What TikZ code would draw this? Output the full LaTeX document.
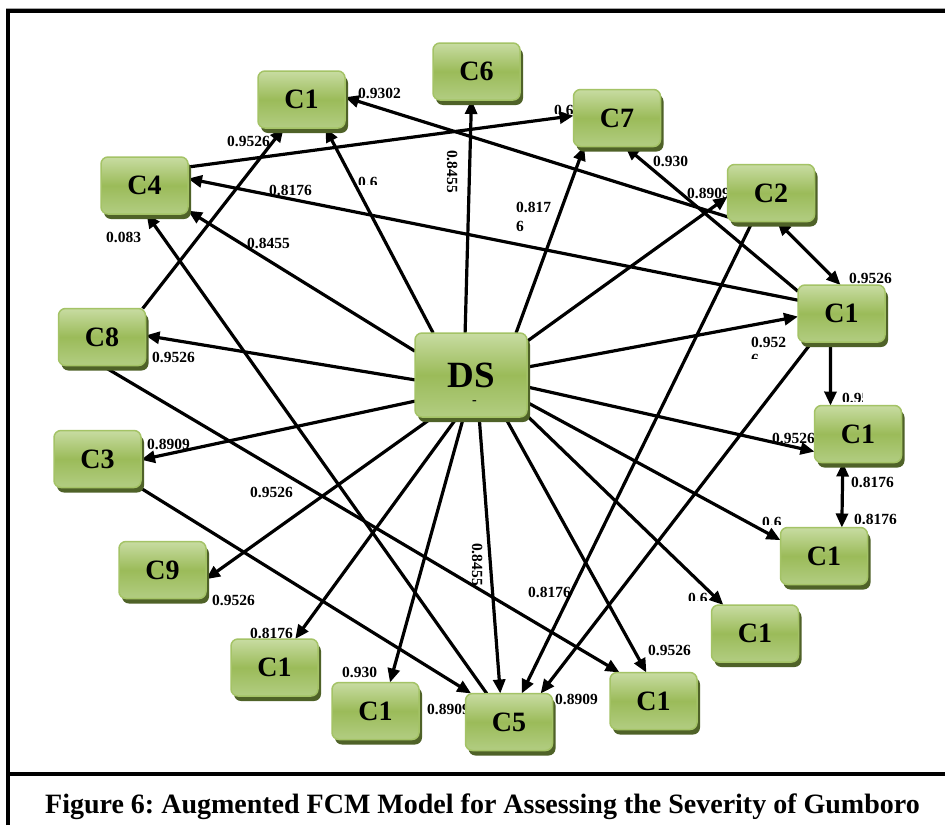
\documentclass[tikz,border=0pt]{standalone}
\usepackage{fontspec}
\setmainfont{Liberation Serif}
\usetikzlibrary{arrows.meta,shadows}
\frenchspacing

\definecolor{nodetop}{HTML}{C8DCA2}
\definecolor{nodemid}{HTML}{9BBB59}
\definecolor{nodebot}{HTML}{B2CD82}
\definecolor{nodeedge}{HTML}{A4C366}
\definecolor{nodeshadow}{HTML}{4F6228}

\pgfdeclarelayer{paper}
\pgfdeclarelayer{weights}
\pgfdeclarelayer{links}
\pgfsetlayers{paper,weights,links,main}

\tikzset{
  concept/.style={rectangle, rounded corners=7pt, draw=nodeedge, line width=1.5pt,
    top color=nodetop, bottom color=nodebot, middle color=nodemid,
    general shadow={fill=nodeshadow, shadow xshift=3pt, shadow yshift=-5pt},
    minimum width=87pt, minimum height=57pt, inner sep=0pt, outer sep=0pt,
    font=\fontsize{28}{30}\selectfont\bfseries},
  hub/.style={concept, minimum width=112pt, minimum height=84pt,
    font=\fontsize{37}{40}\selectfont\bfseries},
  weight/.style={anchor=base west, inner sep=0pt, font=\fontsize{15.5}{17}\selectfont\bfseries},
  link/.style={line width=3.2pt, -{Triangle[length=14pt,width=12pt]}},
  dlink/.style={line width=3.2pt, {Triangle[length=14pt,width=12pt]}-{Triangle[length=14pt,width=12pt]}},
  frame/.style={line width=4pt, black},
}

\begin{document}
\begin{tikzpicture}[x=1pt, y=-1pt]
\useasboundingbox (0,0) rectangle (945,825);
\begin{pgfonlayer}{paper}
\fill[white] (0,0) rectangle (945,825);
\end{pgfonlayer}

% frame and caption box
\draw[black!35, line width=1pt] (6,8.3) -- (945,8.3);
\draw[frame] (8,825) -- (8,11) -- (945,11);
\draw[frame] (8,774) -- (945,774);
\node[anchor=base, inner sep=0pt, font=\fontsize{28}{30}\selectfont\bfseries] (caption) at (482.5,813)
  {Figure 6: Augmented FCM Model for Assessing the Severity of Gumboro};

% concepts
\node[hub]     (ds)  at (471,375)   {DS};
\node[concept] (c1t) at (301.5,99.5) {C1};
\node[concept] (c6)  at (476.5,71.5) {C6};
\node[concept] (c7)  at (617,118)   {C7};
\node[concept] (c2)  at (771,193)   {C2};
\node[concept] (c4)  at (144.5,185.5) {C4};
\node[concept] (r1)  at (841.5,313.5) {C1};
\node[concept] (r2)  at (858,434)   {C1};
\node[concept] (r3)  at (824,556)   {C1};
\node[concept] (r4)  at (755,633.5) {C1};
\node[concept] (b1)  at (653.5,701) {C1};
\node[concept] (c5)  at (509,722)   {C5};
\node[concept] (b2)  at (375.5,711) {C1};
\node[concept] (b3)  at (274.5,667.5) {C1};
\node[concept] (c9)  at (162.5,570) {C9};
\node[concept] (c3)  at (97.5,459)  {C3};
\node[concept] (c8)  at (102,337)   {C8};
\node[inner sep=0pt, text height=1pt, text depth=0pt, font=\fontsize{14}{14}\selectfont\bfseries] (dsmark) at (474.5,404) {-};

% causal links
\begin{pgfonlayer}{links}
\draw[link] (ds.132.9) -- (c1t.-50);
\draw[link] (ds.98) -- (c6.-100);
\draw[link] (ds.43.7) -- (c7.-139.4);
\draw[link] (ds.31.5) -- (c2.185);
\draw[link] (ds.8.1) -- (r1.184);
\draw[link] (ds.-12.1) -- (r2.202);
\draw[link] (ds.-26.6) -- (r3.160);
\draw[link] (ds.-36.3) -- (r4.138.9);
\draw[link] (ds.-51) -- (b1.104.5);
\draw[link] (ds.-79.2) -- (c5.107.8);
\draw[link] (ds.-100.8) -- (b2.63.4);
\draw[link] (ds.-108.4) -- (b3.54);
\draw[link] (ds.-132.9) -- (c9.-12.7);
\draw[link] (ds.205.7) -- (c3.-1.3);
\draw[link] (ds.185.1) -- (c8.2.5);
\draw[link] (ds.157.7) -- (c4.-30.4);
\draw[link] (c4.23.8) -- (c7.177.3);
\draw[link] (c2.225) -- (c1t.3.4);
\draw[link] (r1.153.2) -- (c7.-74.6);
\draw[link] (r1.163.7) -- (c4.9.9);
\draw[dlink] (c2.-78.7) -- (r1.92.8);
\draw[link] (r1.-111.6) -- (r2.134);
\draw[dlink] (r2.-118.9) -- (r3.58.2);
\draw[link] (r1.-136.5) -- (c5.42.3);
\draw[link] (c2.-123.2) -- (c5.66.6);
\draw[link] (c8.35.4) -- (c1t.-122.5);
\draw[link] (c8.-90) -- (b1.140.8);
\draw[link] (c3.-34.7) -- (c5.143.1);
\draw[link] (c5.128.2) -- (c4.-86);
\end{pgfonlayer}

% link weights
\begin{pgfonlayer}{weights}
\node[weight] (w1)  at (358,98)  {0.9302};
\node[weight] (w2)  at (227,146) {0.9526};
\begin{scope}
  \clip (350,170) rectangle (390,184);
  \node[weight] (w3) at (358,187.5) {0.6};
\end{scope}
\node[weight] (w4)  at (269,195) {0.8176};
\node[weight] (w5)  at (247,248) {0.8455};
\node[weight] (w6)  at (106,242) {0.083};
\node[weight, rotate=-90] (w7) at (447,150) {0.8455};
\begin{scope}
  \clip (545,98) rectangle (580,113);
  \node[weight] (w8) at (554,115.5) {0.6};
\end{scope}
\node[weight] (w9)  at (653,166) {0.930};
\node[weight] (w10) at (687,198) {0.8909};
\node[weight] (w11a) at (516,212) {0.817};
\node[weight] (w11b) at (516,231) {6};
\node[weight] (w12) at (849,283) {0.9526};
\node[weight] (w13) at (152,362) {0.9526};
\node[weight] (w14) at (147,449) {0.8909};
\node[weight] (w15) at (250,497) {0.9526};
\node[weight] (w16a) at (751,347) {0.952};
\begin{scope}
  \clip (745,350) rectangle (770,358);
  \node[weight] (w16b) at (751,364) {6};
\end{scope}
\begin{scope}
  \clip (838,385) rectangle (862,401);
  \node[weight] (w17) at (842,403.5) {0.9526};
\end{scope}
\node[weight] (w18) at (772,443) {0.9526};
\node[weight] (w19) at (851,487) {0.8176};
\begin{scope}
  \clip (845,505) rectangle (905,523);
  \node[weight] (w20) at (854,524.5) {0.8176};
\end{scope}
\begin{scope}
  \clip (755,510) rectangle (785,524);
  \node[weight] (w21) at (762,527.5) {0.6};
\end{scope}
\begin{scope}
  \clip (680,585) rectangle (712,600);
  \node[weight] (w22) at (688,603.5) {0.6};
\end{scope}
\node[weight] (w23) at (528,597) {0.8176};
\node[weight, rotate=-90] (w24) at (472,543) {0.8455};
\node[weight] (w25) at (212,605) {0.9526};
\node[weight] (w26) at (250,638) {0.8176};
\node[weight] (w27) at (342,677) {0.930};
\node[weight] (w28) at (427,714) {0.8909};
\node[weight] (w29) at (555,704) {0.8909};
\node[weight] (w30) at (648,655) {0.9526};
\end{pgfonlayer}
\end{tikzpicture}
\end{document}
